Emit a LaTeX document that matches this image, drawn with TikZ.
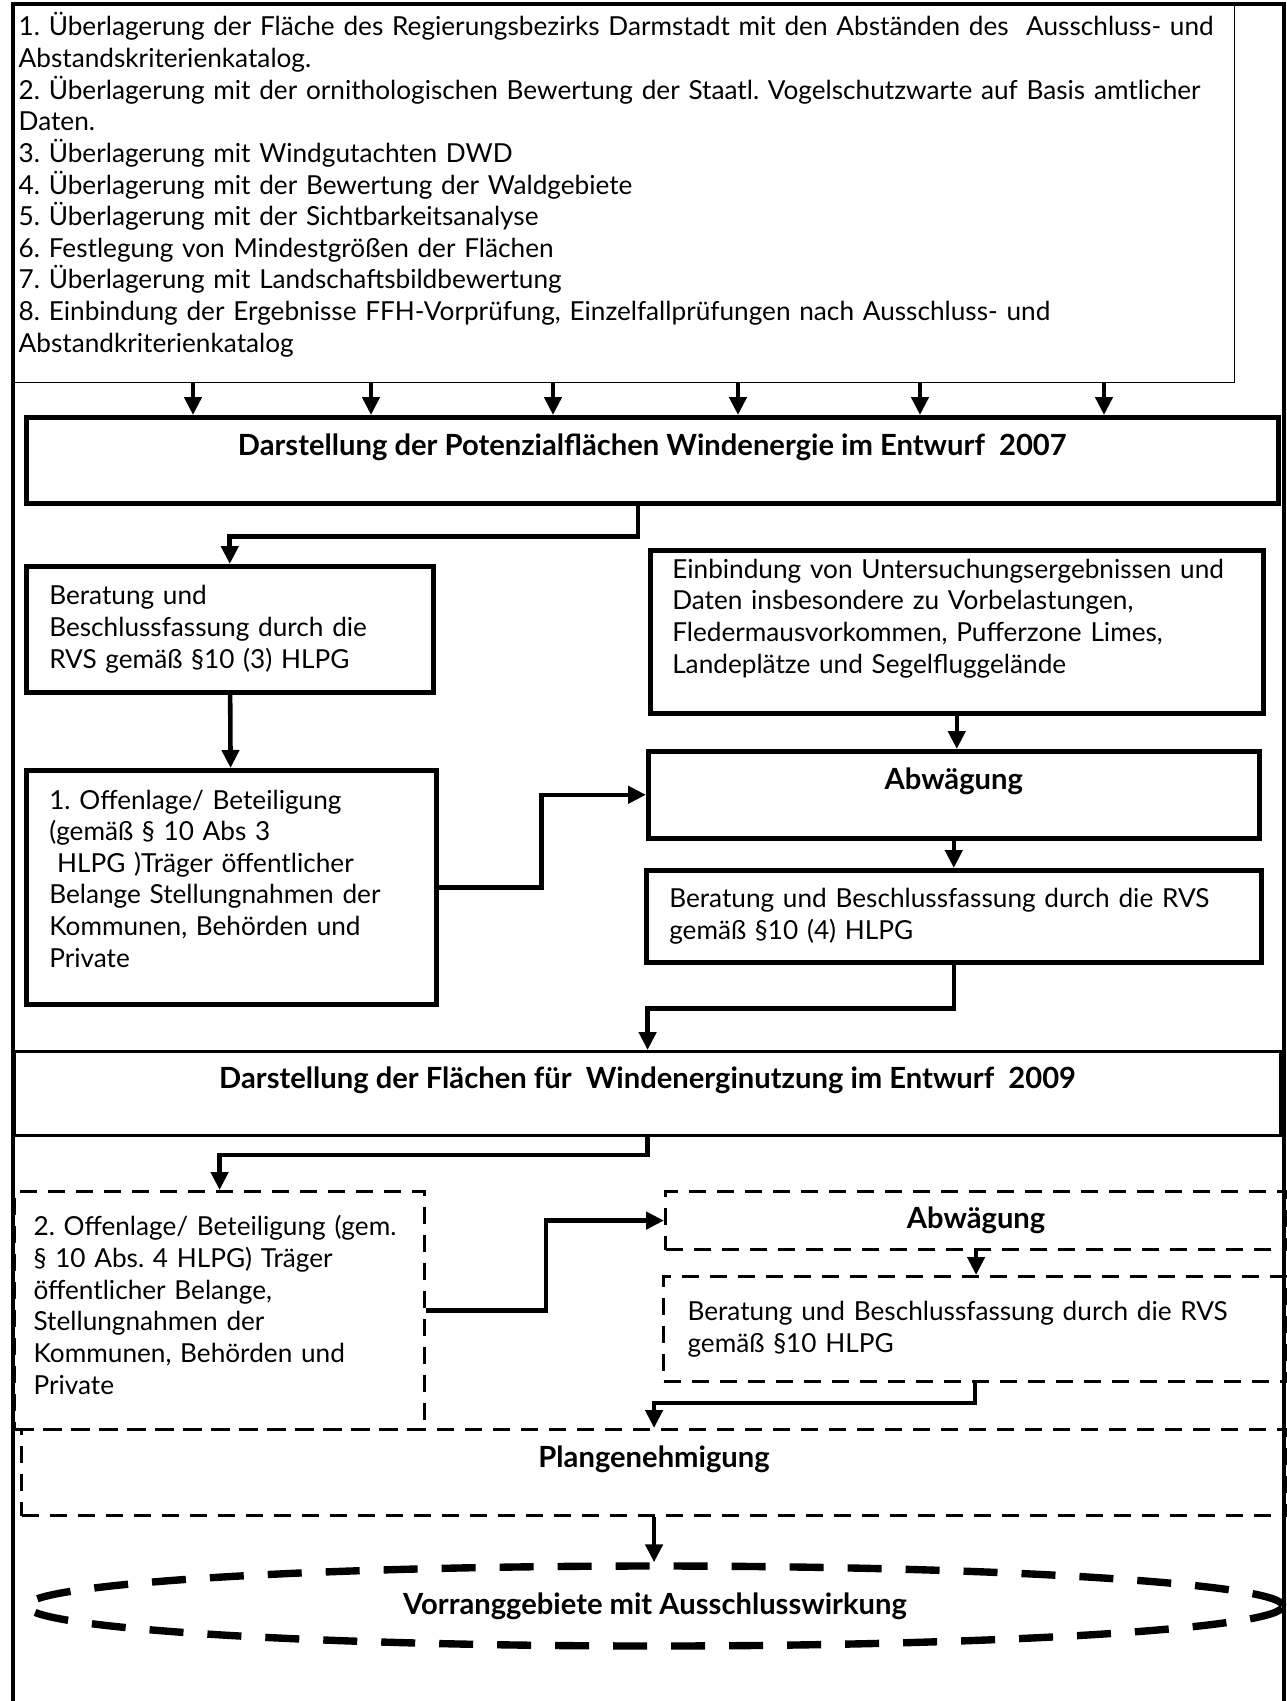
\documentclass[tikz,border=0pt]{standalone}
\usepackage{fontspec}
\setmainfont{Lato}
\usepackage{tikz}
\usetikzlibrary{shapes.geometric,arrows.meta,positioning,calc}
\frenchspacing

\begin{document}
\begin{tikzpicture}[
    x=0.1mm, y=-0.1mm,
    font=\fontsize{7.45}{9}\selectfont,
    block/.style={rectangle, draw, line width=1.3pt, anchor=north west, inner ysep=0pt, inner xsep=2.3mm, align=left},
    title/.style={block, inner xsep=0pt, align=center, font=\fontsize{8.3}{9}\selectfont\bfseries},
    dblock/.style={block, line width=0.9pt, dash pattern=on 1.7mm off 1.1mm},
    dtitle/.style={title, line width=0.9pt, dash pattern=on 1.7mm off 1.1mm},
    arrow/.style={-{Triangle[length=1.8mm,width=1.7mm]}, line width=1.3pt}
  ]
    \useasboundingbox (0,0) rectangle (1287,1701);

    % first draft 2007
    \node[block, line width=0.4pt, inner xsep=0.7mm, text width=120.9mm, minimum height=37.9mm] (src) at (11,3) {1. Überlagerung der Fläche des Regierungsbezirks Darmstadt mit den Abständen des~ Ausschluss- und\\Abstandskriterienkatalog.\\2. Überlagerung mit der ornithologischen Bewertung der Staatl. Vogelschutzwarte auf Basis amtlicher\\Daten.\\3. Überlagerung mit Windgutachten DWD\\4. Überlagerung mit der Bewertung der Waldgebiete\\5. Überlagerung mit der Sichtbarkeitsanalyse\\6. Festlegung von Mindestgrößen der Flächen\\7. Überlagerung mit Landschaftsbildbewertung\\8. Einbindung der Ergebnisse FFH-Vorprüfung, Einzelfallprüfungen nach Ausschluss- und\\Abstandkriterienkatalog\\[-1mm]\mbox{}};
    \node[title, minimum width=125.2mm, minimum height=8.6mm] (pot) at (24,415) {Darstellung der Potenzialflächen Windenergie im Entwurf~ 2007\\ \mbox{}};
    \node[block, text width=36.1mm, minimum height=12.6mm] (ber1) at (24,564) {Beratung und\\Beschlussfassung durch die\\RVS gemäß §10 (3) HLPG};
    \node[block, text width=36.4mm, minimum height=23.4mm] (off1) at (24,768) {1. Offenlage/ Beteiligung\\(gemäß § 10 Abs 3\\\hspace*{0.3em}HLPG )Träger öffentlicher\\Belange Stellungnahmen der\\Kommunen, Behörden und\\Private\\[-1.4mm]\mbox{}};
    \node[block, inner xsep=2.2mm, text width=56.9mm, minimum height=16.3mm] (ein) at (648,548) {Einbindung von Untersuchungsergebnissen und\\Daten insbesondere zu Vorbelastungen,\\Fledermausvorkommen, Pufferzone Limes,\\Landeplätze und Segelfluggelände\\ \mbox{}};
    \node[title, minimum width=61.1mm, minimum height=8.7mm] (abw1) at (646,749) {Abwägung\\ \mbox{}};
    \node[block, text width=56.9mm, minimum height=9.2mm] (ber2) at (644,868) {Beratung und Beschlussfassung durch die RVS\\gemäß §10 (4) HLPG};

    % second draft 2009
    \node[title, line width=0.9pt, minimum width=126.6mm, minimum height=8.4mm] (band) at (13,1050) {Darstellung der Flächen für~ Windenerginutzung im Entwurf~ 2009\\ \mbox{}};
    \node[dblock, inner xsep=1.9mm, text width=37.2mm, minimum height=23.8mm] (off2) at (13,1190) {2. Offenlage/ Beteiligung (gem.\\§ 10 Abs. 4 HLPG) Träger\\öffentlicher Belange,\\Stellungnahmen der\\Kommunen, Behörden und\\Private\\[-2mm]\mbox{}};
    \node[dtitle, minimum width=62.1mm, minimum height=5.8mm] (abw2) at (664,1190) {Abwägung};
    \node[dblock, inner xsep=2.4mm, text width=57.5mm, minimum height=10.5mm] (ber3) at (662,1275) {Beratung und Beschlussfassung durch die RVS\\gemäß §10 HLPG};
    \node[dtitle, minimum width=126.5mm, minimum height=8.6mm] (plan) at (20,1428) {Plangenehmigung\\ \mbox{}};
    \node[ellipse, draw, line width=2.1pt, dash pattern=on 3.4mm off 2.4mm, inner sep=0pt, minimum width=125.6mm, minimum height=8mm, font=\fontsize{8.3}{9}\selectfont\bfseries] (vor) at (655,1606) {Vorranggebiete mit Ausschlusswirkung};

    % frame
    \draw[line width=1.3pt] (13,1710) |- (1284,4) -- (1284,1710);

    % connectors
    \foreach \x in {193,371,553,738,920,1104}
      \draw[arrow] (\x,0 |- src.south) -- (\x,0 |- pot.north);
    \draw[arrow] (638,0 |- pot.south) -- ++(0,31) -| (ber1.north);
    \draw[arrow] (ber1) -- (off1);
    \draw[arrow] (off1.east) -- ++(103,0) |- (abw1.west);
    \draw[arrow] (ein.south) -- (ein.south |- abw1.north);
    \draw[arrow] (abw1.south) -- (abw1.south |- ber2.north);
    \draw[arrow] (ber2.south) -- ++(0,44) -| (band.north);
    \draw[arrow] (band.south) -- ++(0,18) -| (off2.north);
    \draw[arrow] (off2.east) -- ++(120,0) |- (abw2.west);
    \draw[arrow] (abw2.south) -- (abw2.south |- ber3.north);
    \draw[arrow] (ber3.south) -- ++(0,20) -| (plan.north);
    \draw[arrow] (plan.south) -- (plan.south |- vor.north);
  \end{tikzpicture}
\end{document}
